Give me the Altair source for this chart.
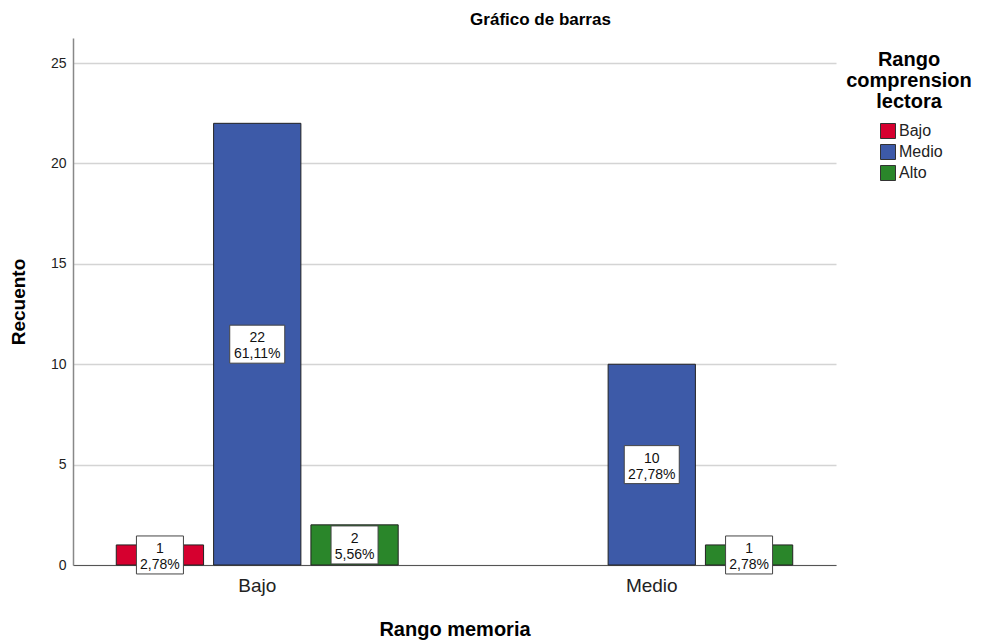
import altair as alt
import pandas as pd

# Data
memoria = ["Bajo", "Bajo", "Bajo", "Medio", "Medio"]
comprension = ["Bajo", "Medio", "Alto", "Medio", "Alto"]
recuento = [1, 22, 2, 10, 1]
porcentaje = ["2,78%", "61,11%", "5,56%", "27,78%", "2,78%"]

grupos = ["Bajo", "Medio"]
niveles = ["Bajo", "Medio", "Alto"]
colores = ["#d6002f", "#3d5aa8", "#2a862a"]
y_ticks = [0, 5, 10, 15, 20, 25]

df = pd.DataFrame({
    "memoria": memoria,
    "comprension": comprension,
    "recuento": recuento,
    "porcentaje": porcentaje,
})

FONT = "Liberation Sans"

x_enc = alt.X(
    "memoria:N",
    sort=grupos,
    scale=alt.Scale(domain=grupos, paddingInner=0.26, paddingOuter=0.097),
    axis=alt.Axis(
        title="Rango memoria", labelAngle=0, ticks=False, labelPadding=11,
        labelFontSize=19, labelColor="#222222", labelFont=FONT,
        domainColor="#555555", domainWidth=1,
        titleFontSize=20, titleFont=FONT, titleFontWeight="bold",
        titleColor="#000000", titlePadding=24,
    ),
)
xoff_enc = alt.XOffset(
    "comprension:N",
    sort=niveles,
    scale=alt.Scale(domain=niveles, paddingInner=0.103, paddingOuter=0.0515),
)
y_scale = alt.Scale(domain=[0, 26.25], nice=False)

bars = alt.Chart(df).mark_bar(stroke="#222222", strokeWidth=1).encode(
    x=x_enc,
    xOffset=xoff_enc,
    y=alt.Y(
        "recuento:Q",
        scale=y_scale,
        axis=alt.Axis(
            title="Recuento", values=y_ticks, ticks=False, labelPadding=7,
            labelFontSize=14, labelFont=FONT, labelColor="#222222",
            grid=True, gridColor="#d4d4d4", gridWidth=1.6,
            domainColor="#888888", domainWidth=1.5,
            titleFontSize=19, titleFont=FONT, titleFontWeight="bold",
            titleColor="#000000", titlePadding=22,
        ),
    ),
    color=alt.Color(
        "comprension:N",
        sort=niveles,
        scale=alt.Scale(domain=niveles, range=colores),
        legend=alt.Legend(
            title=["Rango", "comprension", "lectora"],
            titleFontSize=20, titleFont=FONT, titleFontWeight="bold",
            titleColor="#000000", titleAlign="center", titleAnchor="middle",
            titleLineHeight=21, titlePadding=11,
            labelFontSize=16, labelFont=FONT, labelColor="#222222",
            symbolType="square", symbolSize=225, symbolStrokeColor="#333333",
            symbolStrokeWidth=1, symbolOpacity=1, symbolOffset=5,
            labelOffset=3, rowPadding=1,
            orient="none", legendX=773, legendY=12,
        ),
    ),
)

wide = "M-1,-0.6909L1,-0.6909L1,0.6909L-1,0.6909Z"
narrow = "M-0.8545,-0.6909L0.8545,-0.6909L0.8545,0.6909L-0.8545,0.6909Z"

base_lbl = alt.Chart(df).transform_calculate(
    mitad="datum.recuento / 2",
    etiqueta="datum.recuento + '\\n' + datum.porcentaje",
    caja=f"length(datum.porcentaje) > 5 ? '{wide}' : '{narrow}'",
)

boxes = base_lbl.mark_point(
    filled=True, fill="white", stroke="#444444", strokeWidth=1, opacity=1,
    size=3025,
).encode(
    x=alt.X("memoria:N", sort=grupos),
    xOffset=alt.XOffset("comprension:N", sort=niveles),
    y=alt.Y("mitad:Q", scale=y_scale),
    shape=alt.Shape("caja:N", scale=None),
)

texts = base_lbl.mark_text(
    fontSize=14, font=FONT, color="#111111", lineBreak="\n",
    lineHeight=16, baseline="middle", align="center", dy=-6,
).encode(
    x=alt.X("memoria:N", sort=grupos),
    xOffset=alt.XOffset("comprension:N", sort=niveles),
    y=alt.Y("mitad:Q", scale=y_scale),
    text="etiqueta:N",
)

chart = alt.layer(bars, boxes, texts).properties(
    width=763,
    height=527,
    title=alt.TitleParams(
        "Gráfico de barras", fontSize=17, font=FONT, fontWeight="bold",
        color="#000000", anchor="middle", dx=86, offset=9,
    ),
    autosize=alt.AutoSizeParams(type="none"),
    padding={"left": 65, "top": 30, "right": 140, "bottom": 76},
).configure_view(stroke=None)

chart.save("out.html", embed_options={"renderer": "svg", "actions": False})
